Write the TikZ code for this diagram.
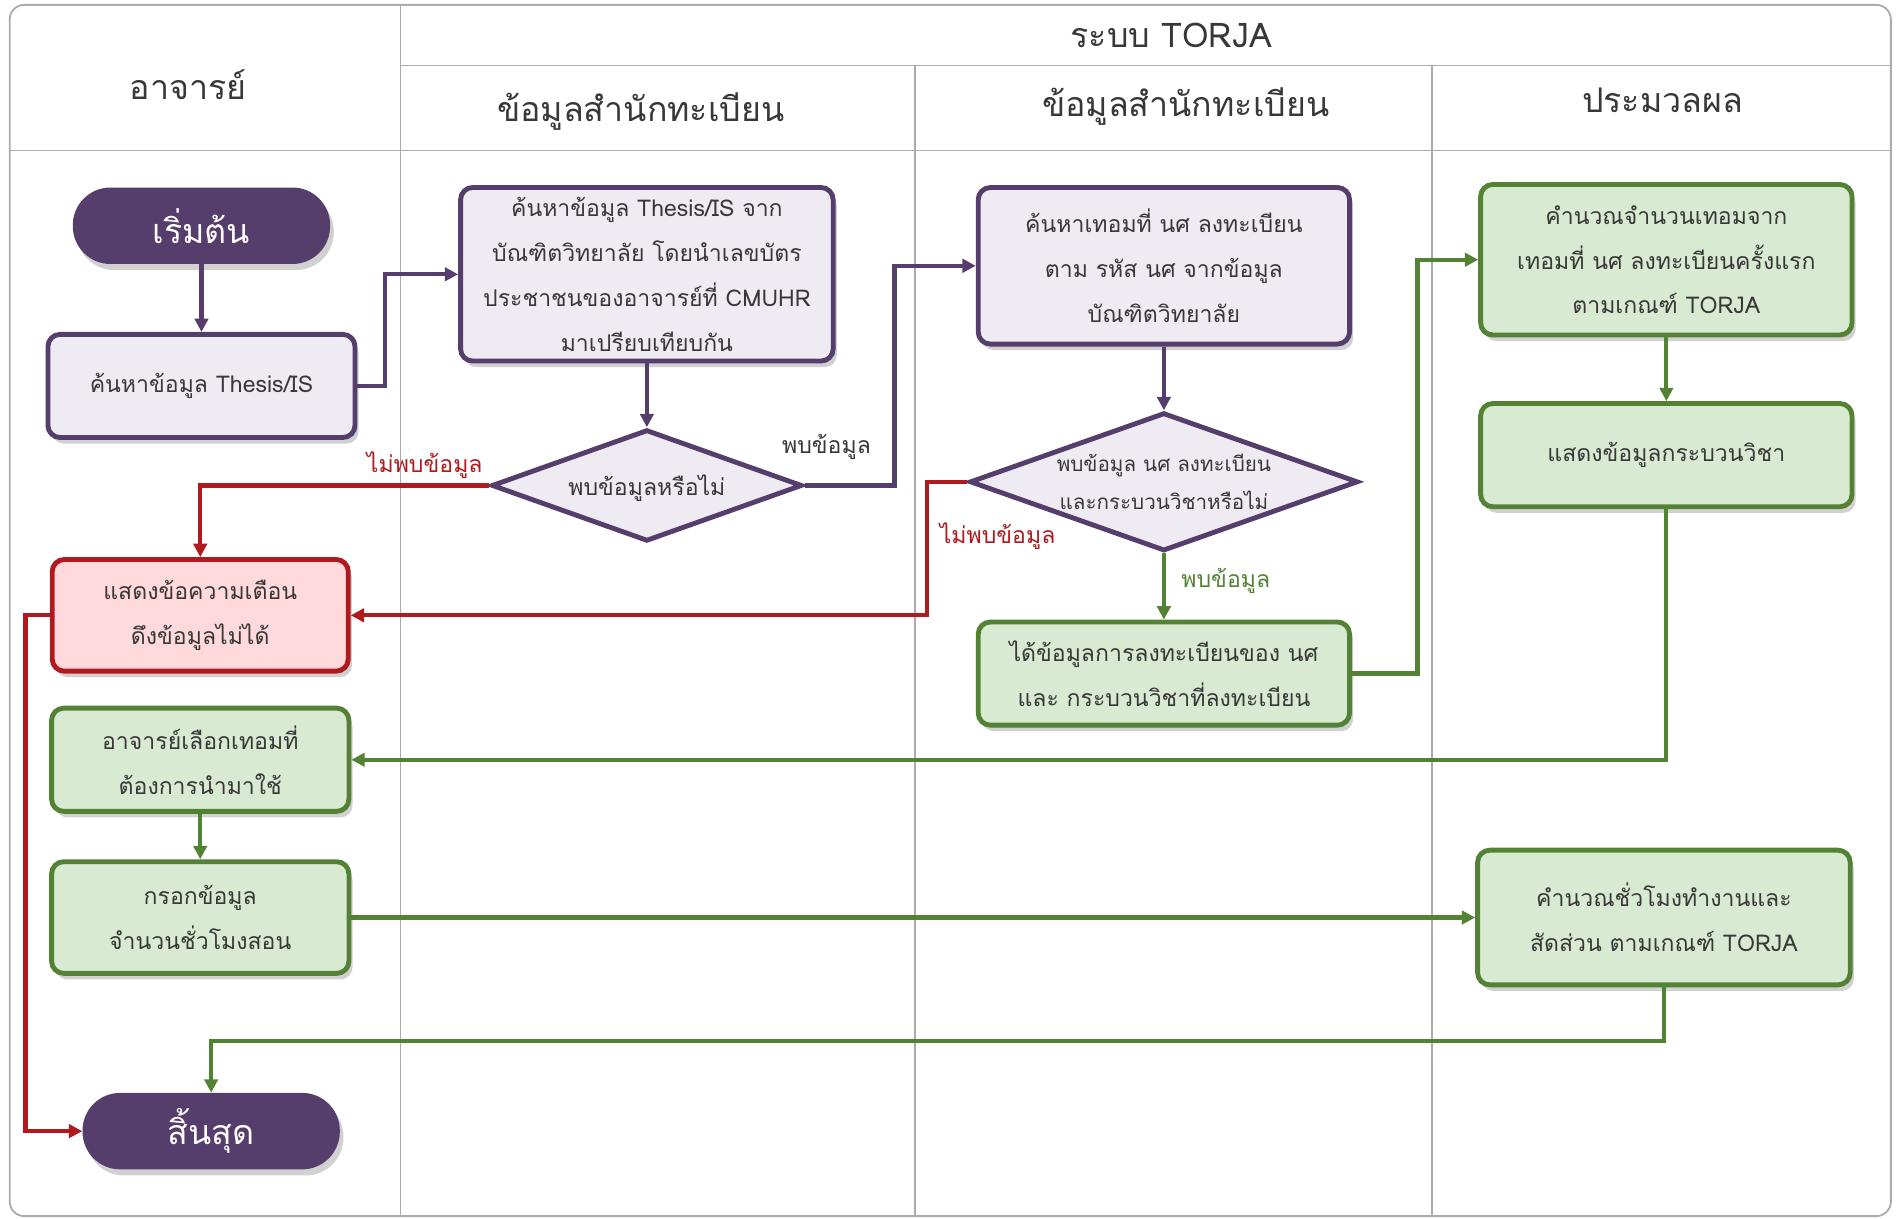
\documentclass[tikz,border=0pt]{standalone}
\usepackage{fontspec}
\setmainfont[Script=Thai]{Loma}
\usetikzlibrary{arrows.meta,shapes.geometric,shadows,calc}
\definecolor{pdark}{HTML}{553D6C}
\definecolor{pfill}{HTML}{EEEBF3}
\definecolor{gline}{HTML}{548235}
\definecolor{gfill}{HTML}{D9EAD3}
\definecolor{rline}{HTML}{B0191E}
\definecolor{rfill}{HTML}{FFD9DB}
\definecolor{txt}{HTML}{383838}
\definecolor{grid}{HTML}{ABABAB}
\begin{document}
\begin{tikzpicture}[x=1pt,y=-1pt,
  shd/.style={drop shadow={shadow xshift=3pt,shadow yshift=-5pt,fill=black,opacity=0.18}},
  boxbase/.style={rectangle,rounded corners=10pt,line width=4pt,align=center,text=txt,
    font=\fontsize{19}{37}\selectfont,inner sep=0pt,shd},
  pbox/.style={boxbase,draw=pdark,fill=pfill},
  gbox/.style={boxbase,draw=gline,fill=gfill},
  rbox/.style={boxbase,draw=rline,fill=rfill},
  term/.style={rectangle,rounded corners=31pt,fill=pdark,text=white,minimum width=212pt,
    minimum height=63pt,font=\fontsize{28}{30}\selectfont,shd},
  dia/.style={diamond,draw=pdark,fill=pfill,line width=4pt,inner sep=0pt},
  diatext/.style={align=center,text=txt,font=\fontsize{17}{31}\selectfont},
  head/.style={text=txt,font=\fontsize{28}{30}\selectfont},
  lab/.style={font=\fontsize{19}{22}\selectfont},
  parr/.style={draw=pdark,line width=3.5pt,-{Triangle[width=11pt,length=11pt]}},
  garr/.style={draw=gline,line width=3.5pt,-{Triangle[width=11pt,length=11pt]}},
  rarr/.style={draw=rline,line width=3.5pt,-{Triangle[width=11pt,length=11pt]}},
  gridline/.style={draw=grid,line width=1.5pt}
]
\useasboundingbox (0,0) rectangle (1568,1004);
% frame and lanes
\draw[gridline] (330,54) -- (1558,54);
\draw[gridline] (8,124) -- (1558,124);
\draw[gridline] (330,4) -- (330,1002);
\draw[gridline] (754,54) -- (754,1002);
\draw[gridline] (1180,54) -- (1180,1002);
\draw[gridline,rounded corners=12pt] (8,4) rectangle (1558,1002);
% headers
\node[head] (h1) at (155,70) {อาจารย์};
\node[head] (h2) at (965,29) {ระบบ TORJA};
\node[head] (h3) at (528,92) {ข้อมูลสำนักทะเบียน};
\node[head] (h4) at (977,88) {ข้อมูลสำนักทะเบียน};
\node[head] (h5) at (1370,83) {ประมวลผล};
% nodes
\node[term] (start) at (166,186) {เริ่มต้น};
\node[pbox,minimum width=253pt,minimum height=85pt] (b2) at (166,318) {\raisebox{-4pt}{ค้นหาข้อมูล Thesis/IS}};
\node[pbox,minimum width=307pt,minimum height=143pt] (b3) at (533,226)
  {ค้นหาข้อมูล Thesis/IS จาก\\บัณฑิตวิทยาลัย โดยนำเลขบัตร\\ประชาชนของอาจารย์ที่ CMUHR\\มาเปรียบเทียบกัน};
\node[dia,minimum width=256pt,minimum height=92pt] (d1) at (533,400) {};
\node[diatext,font=\fontsize{19}{22}\selectfont] (d1t) at (533,402) {พบข้อมูลหรือไม่};
\node[pbox,minimum width=306pt,minimum height=129pt] (b5) at (959,219)
  {ค้นหาเทอมที่ นศ ลงทะเบียน\\ตาม รหัส นศ จากข้อมูล\\บัณฑิตวิทยาลัย};
\node[dia,minimum width=320pt,minimum height=114pt] (d2) at (959,397) {};
\node[diatext] (d2t) at (959,397) {พบข้อมูล นศ ลงทะเบียน\\และกระบวนวิชาหรือไม่};
\node[gbox,minimum width=306pt,minimum height=85pt] (b7) at (959,555)
  {ได้ข้อมูลการลงทะเบียนของ นศ\\และ กระบวนวิชาที่ลงทะเบียน};
\node[gbox,minimum width=306pt,minimum height=124pt] (b8) at (1373,214)
  {คำนวณจำนวนเทอมจาก\\เทอมที่ นศ ลงทะเบียนครั้งแรก\\ตามเกณฑ์ TORJA};
\node[gbox,minimum width=306pt,minimum height=85pt] (b9) at (1373,375) {แสดงข้อมูลกระบวนวิชา};
\node[rbox,minimum width=244pt,minimum height=92pt] (red) at (165,507)
  {แสดงข้อความเตือน\\ดึงข้อมูลไม่ได้};
\node[gbox,minimum width=245pt,minimum height=85pt] (b11) at (165,626)
  {อาจารย์เลือกเทอมที่\\ต้องการนำมาใช้};
\node[gbox,minimum width=245pt,minimum height=92pt] (b12) at (165,756)
  {กรอกข้อมูล\\จำนวนชั่วโมงสอน};
\node[gbox,minimum width=307pt,minimum height=111pt] (b13) at (1371,756)
  {คำนวณชั่วโมงทำงานและ\\สัดส่วน ตามเกณฑ์ TORJA};
\node[term] (end) at (174,932) {สิ้นสุด};
% connectors
\draw[parr] (start.south) -- (b2.north);
\draw[parr] (b2.east) -- ++(23,0) |- (b3.west);
\draw[parr] (b3.south) -- (d1.north);
\draw[parr] (d1.east) -- ++(74,0) |- (b5.west);
\draw[rarr] (d1.west) -| (red.north);
\draw[parr] (b5.south) -- (d2.north);
\draw[rarr] (d2.west) -- ++(-33,0) |- (red.east);
\draw[garr] (d2.south) -- (b7.north);
\draw[garr] (b7.east) -- ++(54,0) |- (b8.west);
\draw[garr] (b8.south) -- (b9.north);
\draw[garr] (b9.south) |- (b11.east);
\draw[garr] (b11.south) -- (b12.north);
\draw[garr] (b12.east) -- (b13.west);
\draw[garr] (b13.south) -- ++(0,44) -| (end.north);
\draw[rarr] (red.west) -- ++(-20,0) |- (end.west);
% labels
\node[lab,text=txt] (l1) at (681,368) {พบข้อมูล};
\node[lab,text=rline] (l2) at (350,383) {ไม่พบข้อมูล};
\node[lab,text=rline] (l3) at (822,442) {ไม่พบข้อมูล};
\node[lab,text=gline] (l4) at (1010,479) {พบข้อมูล};
\end{tikzpicture}
\end{document}
